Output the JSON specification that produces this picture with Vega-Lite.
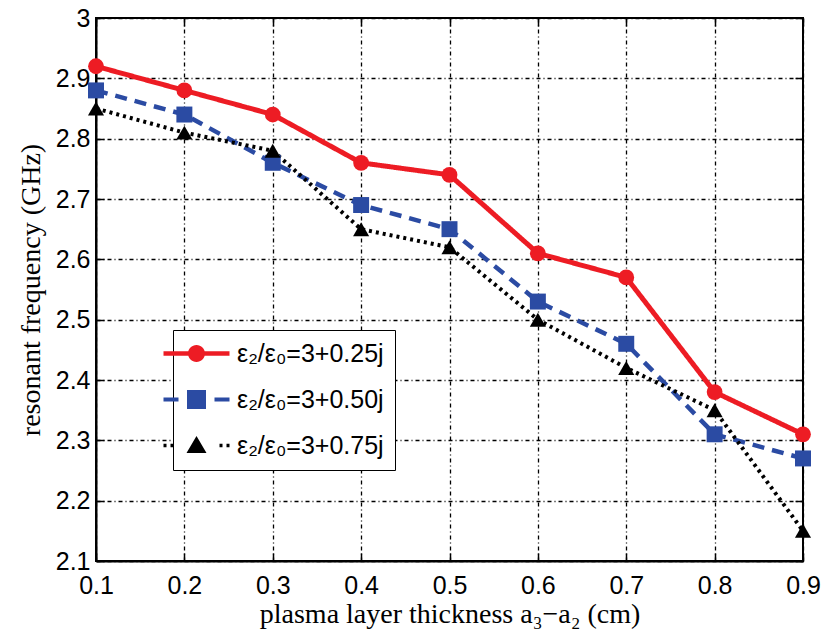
{
  "$schema": "https://vega.github.io/schema/vega-lite/v6.json",
  "width": 707,
  "height": 543,
  "autosize": "none",
  "padding": {"left": 96, "top": 18, "right": 19, "bottom": 76},
  "background": "white",
  "config": {
    "view": {"stroke": "black", "strokeWidth": 2},
    "axis": {
      "domainColor": "black", "domainWidth": 2,
      "tickColor": "black", "tickWidth": 1.5,
      "labelFont": "Liberation Sans", "labelFontSize": 25, "labelColor": "black", "labelFlush": false,
      "titleFont": "Liberation Serif", "titleFontSize": 28, "titleFontWeight": "normal", "titleColor": "black",
      "gridColor": "black", "gridOpacity": 1, "gridWidth": 1.3, "gridDash": [4, 3, 1, 3]
    }
  },
  "data": {
    "values": [
      {"x": 0.1, "f": 2.92, "series": "ε₂/ε₀=3+0.25j"},
      {"x": 0.2, "f": 2.88, "series": "ε₂/ε₀=3+0.25j"},
      {"x": 0.3, "f": 2.84, "series": "ε₂/ε₀=3+0.25j"},
      {"x": 0.4, "f": 2.76, "series": "ε₂/ε₀=3+0.25j"},
      {"x": 0.5, "f": 2.74, "series": "ε₂/ε₀=3+0.25j"},
      {"x": 0.6, "f": 2.61, "series": "ε₂/ε₀=3+0.25j"},
      {"x": 0.7, "f": 2.57, "series": "ε₂/ε₀=3+0.25j"},
      {"x": 0.8, "f": 2.38, "series": "ε₂/ε₀=3+0.25j"},
      {"x": 0.9, "f": 2.31, "series": "ε₂/ε₀=3+0.25j"},
      {"x": 0.1, "f": 2.88, "series": "ε₂/ε₀=3+0.50j"},
      {"x": 0.2, "f": 2.84, "series": "ε₂/ε₀=3+0.50j"},
      {"x": 0.3, "f": 2.76, "series": "ε₂/ε₀=3+0.50j"},
      {"x": 0.4, "f": 2.69, "series": "ε₂/ε₀=3+0.50j"},
      {"x": 0.5, "f": 2.65, "series": "ε₂/ε₀=3+0.50j"},
      {"x": 0.6, "f": 2.53, "series": "ε₂/ε₀=3+0.50j"},
      {"x": 0.7, "f": 2.46, "series": "ε₂/ε₀=3+0.50j"},
      {"x": 0.8, "f": 2.31, "series": "ε₂/ε₀=3+0.50j"},
      {"x": 0.9, "f": 2.27, "series": "ε₂/ε₀=3+0.50j"},
      {"x": 0.1, "f": 2.85, "series": "ε₂/ε₀=3+0.75j"},
      {"x": 0.2, "f": 2.81, "series": "ε₂/ε₀=3+0.75j"},
      {"x": 0.3, "f": 2.78, "series": "ε₂/ε₀=3+0.75j"},
      {"x": 0.4, "f": 2.65, "series": "ε₂/ε₀=3+0.75j"},
      {"x": 0.5, "f": 2.62, "series": "ε₂/ε₀=3+0.75j"},
      {"x": 0.6, "f": 2.50, "series": "ε₂/ε₀=3+0.75j"},
      {"x": 0.7, "f": 2.42, "series": "ε₂/ε₀=3+0.75j"},
      {"x": 0.8, "f": 2.35, "series": "ε₂/ε₀=3+0.75j"},
      {"x": 0.9, "f": 2.15, "series": "ε₂/ε₀=3+0.75j"}
    ]
  },
  "layer": [
    {
      "mark": {"type": "line", "strokeCap": "butt"},
      "encoding": {
        "x": {"field": "x", "type": "quantitative",
          "scale": {"domain": [0.1, 0.9], "nice": false, "zero": false},
          "axis": {"values": [0.1, 0.2, 0.3, 0.4, 0.5, 0.6, 0.7, 0.8, 0.9], "format": ".1f", "grid": true, "tickSize": -8, "labelPadding": 20, "title": "plasma layer thickness a₃−a₂ (cm)", "titlePadding": 2}},
        "y": {"field": "f", "type": "quantitative",
          "scale": {"domain": [2.1, 3.0], "nice": false, "zero": false},
          "axis": {"values": [2.1, 2.2, 2.3, 2.4, 2.5, 2.6, 2.7, 2.8, 2.9, 3.0], "format": "~g", "grid": true, "tickSize": -8, "labelPadding": 14, "title": "resonant frequency (GHz)", "titlePadding": 10}},
        "color": {"field": "series", "type": "nominal",
          "scale": {"range": ["#ED1C24", "#2B4BA3", "#000000"]},
          "legend": {
            "orient": "none", "legendX": 77, "legendY": 312, "title": null,
            "strokeColor": "black", "fillColor": "white", "padding": 11,
            "labelFont": "Liberation Sans", "labelFontSize": 25, "labelColor": "black",
            "symbolSize": 400, "labelOffset": 28, "rowPadding": 20,
            "encode": {
              "symbols": {
                "update": {
                  "shape": {"signal": "indexof(datum.value,'0.25')>=0 ? 'M-3.3,-0.22H3.3V0.22H-3.3Z M0.85,0A0.85,0.85 0 1,1 -0.85,0A0.85,0.85 0 1,1 0.85,0Z' : indexof(datum.value,'0.50')>=0 ? 'M-3.3,-0.2H-1.8V0.2H-3.3Z M-0.95,-0.95H0.95V0.95H-0.95Z M1.8,-0.2H3.3V0.2H1.8Z' : 'M-3.3,-0.17H-3.0V0.17H-3.3Z M-2.6,-0.17H-2.3V0.17H-2.6Z M0,-0.95L1.0,0.75H-1.0Z M2.3,-0.17H2.6V0.17H2.3Z M3.0,-0.17H3.3V0.17H3.0Z'"},
                  "fill": {"scale": "color", "field": "value"},
                  "stroke": {"value": "transparent"},
                  "strokeWidth": {"value": 0},
                  "strokeDash": {"value": []},
                  "opacity": {"value": 1}
                }
              }
            }
          }},
        "strokeDash": {"field": "series", "type": "nominal",
          "scale": {"range": [[1, 0], [12, 8], [3, 4]]}, "legend": null},
        "strokeWidth": {"field": "series", "type": "nominal",
          "scale": {"range": [5, 4, 3.5]}, "legend": null}
      }
    },
    {
      "mark": {"type": "point", "filled": true, "opacity": 1},
      "encoding": {
        "x": {"field": "x", "type": "quantitative",
          "axis": {"orient": "top", "values": [0.1, 0.2, 0.3, 0.4, 0.5, 0.6, 0.7, 0.8, 0.9], "labels": false, "grid": false, "domain": false, "tickSize": -8, "title": null}},
        "y": {"field": "f", "type": "quantitative",
          "axis": {"orient": "right", "values": [2.1, 2.2, 2.3, 2.4, 2.5, 2.6, 2.7, 2.8, 2.9, 3.0], "labels": false, "grid": false, "domain": false, "tickSize": -8, "title": null}},
        "color": {"field": "series", "type": "nominal"},
        "shape": {"field": "series", "type": "nominal",
          "scale": {"range": ["circle", "square", "triangle-up"]}, "legend": null},
        "size": {"field": "series", "type": "nominal",
          "scale": {"range": [250, 260, 480]}, "legend": null}
      }
    }
  ],
  "resolve": {"axis": {"x": "independent", "y": "independent"}}
}
